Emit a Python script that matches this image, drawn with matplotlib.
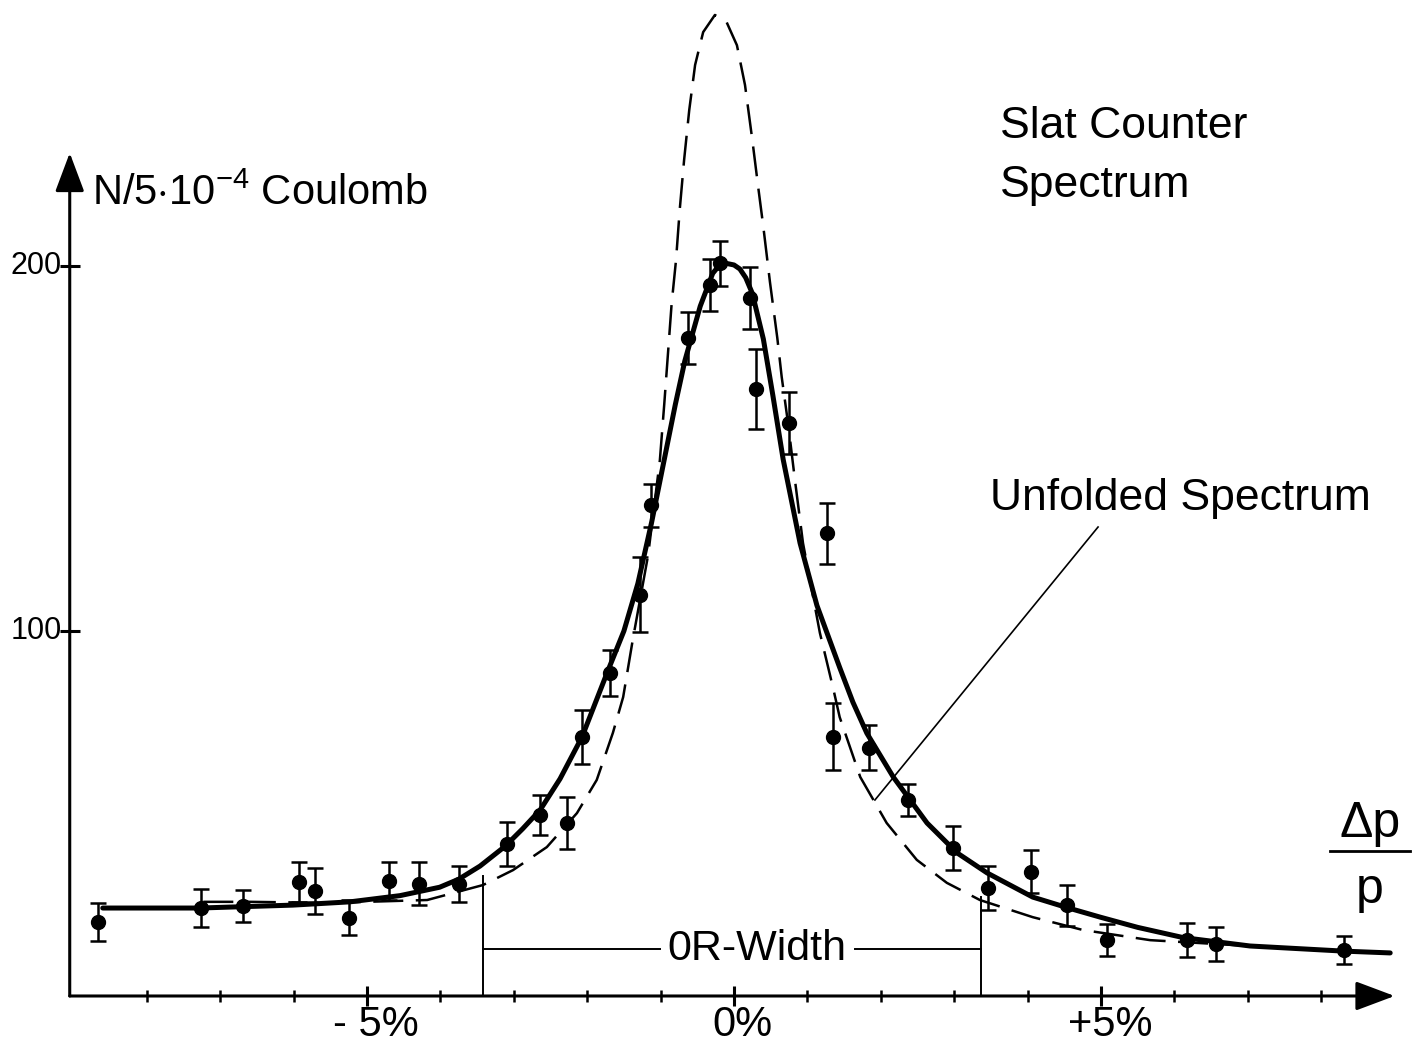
import numpy as np
from matplotlib import pyplot as plt

plt.rcParams['font.family'] = ['Liberation Sans', 'DejaVu Sans']
plt.rcParams['mathtext.fontset'] = 'custom'
plt.rcParams['mathtext.rm'] = 'Liberation Sans'

# Measured points (dp/p in %, counts per 5e-4 Coulomb)
dp = [-8.66, -7.26, -6.69, -5.93, -5.71, -5.25, -4.70, -4.29, -3.75, -3.09,
      -2.64, -2.28, -2.07, -1.69, -1.28, -1.13, -0.63, -0.33, -0.19, 0.22,
      0.30, 0.75, 1.27, 1.35, 1.84, 2.37, 2.98, 3.46, 4.05, 4.54,
      5.08, 6.17, 6.57, 8.31]
counts = [20.3, 24.1, 24.7, 31.2, 28.8, 21.4, 31.5, 30.7, 30.7, 41.6,
          49.6, 47.4, 71.0, 88.5, 109.9, 134.5, 180.3, 194.8, 200.8, 191.2,
          166.3, 157.0, 126.8, 71.0, 68.0, 53.7, 40.5, 29.6, 34.0, 24.9,
          15.3, 15.3, 14.2, 12.6]
errors = [5.1, 5.3, 4.4, 5.5, 6.4, 4.8, 5.2, 5.9, 4.9, 6.0,
          5.5, 7.1, 7.3, 6.3, 10.3, 5.9, 7.0, 7.1, 6.2, 8.5,
          11.0, 8.6, 8.4, 9.2, 6.2, 4.4, 6.0, 6.0, 5.9, 5.6,
          4.4, 4.7, 4.7, 3.9]

# Fitted slat counter spectrum (solid)
fit_x = [-8.60, -7.28, -6.01, -5.23, -4.55, -4.01, -3.75, -3.46, -3.12, -2.88,
         -2.64, -2.37, -2.07, -1.73, -1.50, -1.31, -1.12, -0.94, -0.80, -0.67,
         -0.46, -0.29, -0.20, -0.12, 0.00, 0.08, 0.16, 0.25, 0.40, 0.53,
         0.67, 0.90, 1.13, 1.44, 1.62, 1.81, 2.17, 2.63, 3.04, 3.45,
         4.07, 4.54, 4.99, 5.50, 6.12, 7.03, 8.30, 8.94]
fit_y = [24.1, 24.1, 24.9, 25.8, 27.5, 29.8, 32.0, 35.6, 41.0, 45.8,
         51.0, 59.5, 71.0, 88.5, 100.0, 113.0, 130.0, 148.0, 162.0, 174.0,
         189.0, 198.0, 200.2, 200.8, 200.3, 199.2, 196.8, 192.5, 180.0, 164.5,
         147.0, 124.1, 107.0, 90.0, 80.5, 72.0, 60.0, 47.4, 39.2, 33.7,
         27.1, 24.2, 21.6, 18.8, 16.0, 13.7, 12.3, 11.8]

# Unfolded spectrum (dashed)
unf_x = [-7.23, -6.59, -5.50, -4.18, -3.42, -3.01, -2.55, -2.14, -1.87, -1.65,
         -1.51, -1.38, -1.17, -1.01, -0.95, -0.90, -0.85, -0.79, -0.74, -0.68,
         -0.61, -0.53, -0.42, -0.26, -0.10, 0.04, 0.15, 0.25, 0.33, 0.40,
         0.49, 0.59, 0.65, 0.74, 0.83, 0.94, 1.17, 1.35, 1.44, 1.72,
         2.08, 2.49, 2.90, 3.35, 4.07, 4.75, 5.67, 7.03]
unf_y = [25.8, 25.8, 25.5, 26.3, 30.4, 34.5, 40.8, 50.1, 59.2, 72.1,
         81.9, 97.5, 120.8, 146.8, 162.2, 175.9, 189.6, 201.6, 215.3, 229.0,
         242.7, 255.1, 264.1, 268.8, 266.8, 260.5, 249.6, 234.5, 221.6, 210.7,
         195.6, 180.3, 169.6, 156.4, 141.4, 124.1, 99.5, 84.4, 76.4, 60.0,
         47.4, 37.3, 31.0, 26.3, 21.6, 18.1, 15.3, 13.7]

x_ticks = np.arange(-8, 9)
x_labels = {-5: '- 5%', 0: '0%', 5: '+5%'}
y_ticks = [100, 200]
or_width = [-3.42, 3.37]

fig = plt.figure(figsize=(14.23, 10.43), dpi=100)
ax = fig.add_axes([0, 0, 1, 1])
ax.set_xlim(-10.0, 9.387)
ax.set_ylim(-12.88, 272.9)
ax.axis('off')

x0 = -9.05
# axes with arrow heads
arrow = dict(arrowstyle='-|>,head_length=1.2,head_width=0.45',
             mutation_scale=20, lw=2.2, color='black', shrinkA=0, shrinkB=0)
ax.annotate('', xy=(x0, 231), xytext=(x0, 0), arrowprops=arrow)
ax.annotate('', xy=(9.0, 0), xytext=(x0, 0), arrowprops=arrow)

# ticks
ax.plot([x0] * len(y_ticks), y_ticks, ls='none', marker='_', ms=14, mew=2.2, color='black')
for t in y_ticks:
    ax.text(x0 - 0.11, t, str(t), ha='right', va='center', fontsize=22)
minor = [t for t in x_ticks if t not in x_labels]
major = [t for t in x_ticks if t in x_labels]
ax.plot(minor, [0] * len(minor), ls='none', marker='|', ms=9, mew=1.8, color='black')
ax.plot(major, [0] * len(major), ls='none', marker='|', ms=14, mew=2.2, color='black')
for t, lab in x_labels.items():
    ax.text(t + 0.12, -8, lab, ha='center', va='center', fontsize=30)

# curves
ax.plot(unf_x, unf_y, color='black', lw=1.8, dashes=(12, 5))
ax.plot(fit_x, fit_y, color='black', lw=3.6, solid_capstyle='round', solid_joinstyle='round')
ax.errorbar(dp, counts, yerr=errors, fmt='o', color='black', ms=10,
            elinewidth=1.8, capsize=5.5, capthick=1.8, zorder=5)

# OR-width marker
ax.plot([or_width[0], or_width[0]], [0, 33], color='black', lw=1.4)
ax.plot([or_width[1], or_width[1]], [0, 27], color='black', lw=1.4)
ax.plot([or_width[0], -1.01], [13, 13], color='black', lw=1.4)
ax.plot([1.65, or_width[1]], [13, 13], color='black', lw=1.4)
ax.text(0.31, 13, '0R-Width', ha='center', va='center', fontsize=31)

# labels
ax.text(-8.75, 216.7, r'N/5$\cdot$10$^{-4}$ Coulomb', ha='left', va='baseline', fontsize=30)
ax.text(3.62, 235, 'Slat Counter', ha='left', va='baseline', fontsize=32)
ax.text(3.62, 219, 'Spectrum', ha='left', va='baseline', fontsize=32)
ax.text(3.49, 133.2, 'Unfolded Spectrum', ha='left', va='baseline', fontsize=32)
ax.plot([4.96, 1.92], [128.5, 53.7], color='black', lw=1.2)

# dp/p at the end of the x axis
ax.text(8.66, 47, 'Δp', ha='center', va='center', fontsize=36)
ax.plot([8.12, 9.21], [39.7, 39.7], color='black', lw=2)
ax.text(8.66, 29, 'p', ha='center', va='center', fontsize=36)

plt.savefig('out.png', dpi=100)
